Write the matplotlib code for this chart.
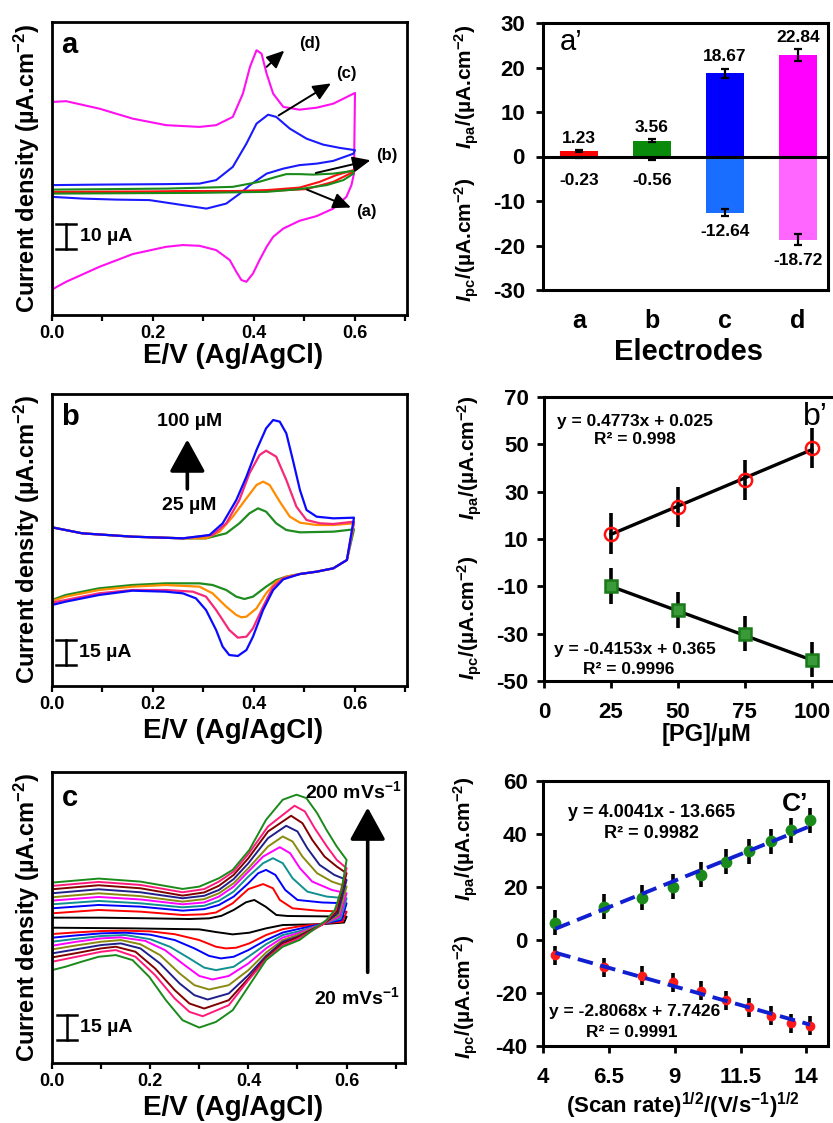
"""
Six-panel CV / peak-current figure (a, a', b, b', c, c').
"""
import matplotlib
matplotlib.use("Agg")
import matplotlib.pyplot as plt

W, H = 833, 1123

plt.rcParams["font.family"] = ["Liberation Sans", "DejaVu Sans"]
plt.rcParams["font.weight"] = "bold"
plt.rcParams["mathtext.fontset"] = "custom"
plt.rcParams["mathtext.rm"] = "Liberation Sans:bold"
plt.rcParams["mathtext.it"] = "Liberation Sans:bold:italic"
plt.rcParams["mathtext.bf"] = "Liberation Sans:bold"
plt.rcParams["mathtext.default"] = "rm"
plt.rcParams["axes.unicode_minus"] = False

# ---------------- panel a: CVs of electrodes a-d (E / V, j / uA.cm-2, arbitrary zero)
A_D_UP_E = [0, 0.028, 0.094, 0.16, 0.226, 0.292, 0.325, 0.358, 0.378, 0.392, 0.405, 0.415,
            0.425, 0.438, 0.458, 0.49, 0.524, 0.557, 0.6]
A_D_UP_J = [36, 36.3, 33.3, 29.3, 26.7, 26, 26.7, 30, 39.3, 50, 56.7, 55.3,
            47.3, 39.3, 34, 32.9, 33.7, 35.3, 39.6]
A_D_DN_E = [0.6, 0.598, 0.593, 0.583, 0.557, 0.524, 0.49, 0.458, 0.438, 0.425, 0.411, 0.398,
            0.385, 0.375, 0.365, 0.352, 0.325, 0.292, 0.259, 0.226, 0.16, 0.094, 0.028, 0]
A_D_DN_J = [39.6, 7.3, 2.7, -2, -6.7, -9.7, -11.6, -14.7, -18, -22, -27.3, -32.7,
            -36, -35.3, -32, -27.3, -23.3, -21.6, -21.3, -22, -24.9, -30, -36, -39.1]
A_C_UP_E = [0, 0.094, 0.226, 0.292, 0.325, 0.358, 0.385, 0.405, 0.428, 0.444, 0.471, 0.504,
            0.537, 0.57, 0.6]
A_C_UP_J = [2.7, 2.9, 3.1, 3.3, 4.7, 10, 19.3, 27.3, 30.9, 30, 25.3, 21.3, 18.9, 17.6, 16.7]
A_C_DN_E = [0.6, 0.597, 0.557, 0.524, 0.49, 0.458, 0.425, 0.392, 0.372, 0.345, 0.306, 0.259,
            0.193, 0.127, 0.061, 0]
A_C_DN_J = [16.7, 15.3, 12.4, 11.3, 10.7, 9.3, 7.3, 2.7, -0.7, -4.7, -6.7, -5.3,
            -3.3, -3.1, -2.7, -2]
A_B_UP_E = [0, 0.226, 0.358, 0.41, 0.444, 0.464, 0.49, 0.517, 0.557, 0.597]
A_B_UP_J = [0.9, 1.3, 2, 4, 6, 7.1, 7.1, 6.9, 7.3, 8.4]
A_B_DN_E = [0.597, 0.577, 0.544, 0.49, 0.425, 0.292, 0]
A_B_DN_J = [7.3, 4.7, 2.7, 1.1, 0, -0.4, -0.7]
A_A_UP_E = [0, 0.358, 0.425, 0.49, 0.53, 0.563, 0.597]
A_A_UP_J = [0, 0.3, 0.7, 1.7, 4, 6.7, 8.7]
A_A_DN_E = [0.597, 0.557, 0.504, 0.425, 0]
A_A_DN_J = [8, 4, 1.1, 0.3, -0.4]

# ---------------- panel a': peak currents
ELECTRODES = ["a", "b", "c", "d"]
IPA_BAR = [1.23, 3.56, 18.67, 22.84]
IPC_BAR = [-0.23, -0.56, -12.64, -18.72]
IPA_BAR_ERR = [0.3, 0.35, 1.1, 1.3]
IPC_BAR_ERR = [0.2, 0.25, 0.75, 1.2]

# ---------------- panel b: CVs at 25, 50, 75, 100 uM PG
B_UP_E = [
    [0, 0.06, 0.159, 0.259, 0.305, 0.345, 0.371, 0.391, 0.408, 0.424, 0.444, 0.464, 0.491, 0.557, 0.598],
    [0, 0.06, 0.159, 0.259, 0.305, 0.332, 0.358, 0.385, 0.405, 0.418, 0.431, 0.451, 0.471, 0.491, 0.524, 0.557, 0.598],
    [0, 0.06, 0.159, 0.259, 0.318, 0.345, 0.371, 0.391, 0.411, 0.424, 0.444, 0.464, 0.484, 0.504, 0.531, 0.557, 0.598],
    [0, 0.06, 0.159, 0.259, 0.312, 0.338, 0.365, 0.385, 0.405, 0.424, 0.438, 0.451, 0.464, 0.477, 0.491, 0.504, 0.524, 0.557, 0.598],
]
B_UP_J = [
    [21.6, 18, 16, 15, 15, 18, 24, 30, 33, 31, 24, 20, 18.6, 19, 20.4],
    [21.6, 18, 16, 15, 15, 19, 28, 39, 47, 49, 47, 37, 28, 24.4, 23, 23, 24],
    [21.6, 18, 16, 15, 17, 24, 38, 54, 65, 67.6, 64, 50, 34, 26, 24, 23.6, 25],
    [21.6, 18, 16, 15, 17, 24, 38, 52, 68, 81, 86, 85, 78, 62, 44, 32, 28, 27, 27.4],
]
B_DN_E = [
    [0.598, 0.584, 0.557, 0.524, 0.491, 0.464, 0.444, 0.424, 0.398, 0.381, 0.365, 0.345, 0.318, 0.292, 0.225, 0.159, 0.093, 0.027, 0],
    [0.598, 0.584, 0.557, 0.524, 0.491, 0.464, 0.444, 0.424, 0.405, 0.385, 0.375, 0.365, 0.345, 0.318, 0.292, 0.225, 0.159, 0.093, 0.027, 0],
    [0.598, 0.584, 0.557, 0.524, 0.491, 0.458, 0.438, 0.418, 0.398, 0.385, 0.368, 0.351, 0.325, 0.305, 0.279, 0.225, 0.159, 0.093, 0.027, 0],
    [0.598, 0.584, 0.557, 0.524, 0.491, 0.458, 0.438, 0.418, 0.398, 0.385, 0.368, 0.351, 0.338, 0.325, 0.305, 0.285, 0.259, 0.225, 0.159, 0.093, 0.027, 0],
]
B_DN_J = [
    [20.4, 2, -3, -5, -6.4, -8, -10, -14, -20, -21.4, -20, -16, -13, -12, -12, -13, -15, -19, -22],
    [24, 2, -3, -5, -6.4, -8, -11, -18, -27, -32, -32.4, -31, -26, -18, -14, -13, -14, -16, -20, -22.6],
    [25, 2, -3, -5, -6.4, -9, -14, -26, -39, -44, -44.6, -40, -28, -20, -17, -16, -16, -18, -22, -23.6],
    [27.4, 2, -3, -5, -6.4, -9.6, -16, -28, -44, -52, -55.6, -55, -50, -40, -28, -21, -18, -17, -16.4, -19, -23, -25],
]
B_COLORS = ["#1f8c1f", "#ff8c00", "#f5287a", "#0a0aff"]

# ---------------- panel b': peak current vs [PG]
PG_CONC = [25, 50, 75, 100]
IPA_PG = [12.3, 23.5, 35.0, 48.5]
IPC_PG = [-9.8, -20.0, -30.0, -41.0]
IPA_PG_ERR = [8.5, 8.5, 8.5, 8.5]
IPC_PG_ERR = [7.5, 7.5, 7.5, 7.5]
FIT_PG_PA = (0.4773, 0.025)
FIT_PG_PC = (-0.4153, 0.365)

# ---------------- panel c: CVs at 20 ... 200 mV/s
SCAN_COLORS = ["#000000", "#ff0000", "#0000ff", "#109090", "#ff00ff",
               "#8a8a10", "#20208a", "#800000", "#ff1a7a", "#1a8a1a"]
C_UP_E = [
    [0, 0.1, 0.2, 0.28, 0.32, 0.345, 0.37, 0.395, 0.412, 0.435, 0.457, 0.48, 0.55, 0.6],
    [0, 0.095, 0.18, 0.266, 0.31, 0.334, 0.368, 0.40, 0.43, 0.45, 0.464, 0.49, 0.54, 0.6],
    [0, 0.095, 0.18, 0.266, 0.31, 0.34, 0.37, 0.40, 0.42, 0.436, 0.455, 0.475, 0.50, 0.55, 0.6],
    [0, 0.095, 0.18, 0.266, 0.31, 0.34, 0.37, 0.40, 0.43, 0.45, 0.47, 0.49, 0.52, 0.56, 0.6],
    [0, 0.095, 0.18, 0.266, 0.31, 0.34, 0.37, 0.40, 0.43, 0.464, 0.485, 0.505, 0.53, 0.57, 0.6],
    [0, 0.095, 0.18, 0.266, 0.31, 0.34, 0.37, 0.40, 0.44, 0.47, 0.49, 0.51, 0.54, 0.57, 0.6],
    [0, 0.095, 0.18, 0.266, 0.31, 0.34, 0.37, 0.40, 0.44, 0.477, 0.50, 0.52, 0.545, 0.575, 0.6],
    [0, 0.095, 0.18, 0.266, 0.31, 0.34, 0.37, 0.40, 0.44, 0.487, 0.51, 0.53, 0.555, 0.58, 0.6],
    [0, 0.095, 0.18, 0.266, 0.31, 0.34, 0.37, 0.40, 0.44, 0.494, 0.515, 0.535, 0.56, 0.58, 0.6],
    [0, 0.095, 0.18, 0.266, 0.30, 0.34, 0.368, 0.402, 0.436, 0.47, 0.498, 0.518, 0.54, 0.559, 0.58, 0.6],
]
C_UP_J = [
    [3.4, 3.4, 3.0, 2.6, 3.0, 4.5, 8, 12.6, 14, 10, 5, 4.4, 4.2, 4],
    [6, 8, 7, 5, 5.4, 6.5, 12, 20.5, 23.5, 21, 14, 9, 7.6, 7],
    [9, 11, 10, 7.6, 8.5, 11, 16, 24, 30, 32, 29, 20, 14, 12.5, 12],
    [11.4, 13.4, 12, 9.6, 10.5, 13.5, 19, 28, 36, 39, 36, 27, 19, 16, 15],
    [13.6, 15.8, 14.3, 11.4, 12.5, 16, 22, 31, 40, 45.6, 42, 33, 25, 20, 18],
    [15.6, 18, 16.3, 13, 14.5, 18, 24, 33, 46, 52, 49, 40, 30, 25, 22],
    [18, 20.4, 18.6, 15, 16.5, 20, 26.5, 36, 51, 58.4, 55, 45, 35, 29, 26],
    [20.4, 22.8, 21, 16.6, 18.5, 22.5, 29, 39, 55, 64.4, 60, 50, 40, 34, 30],
    [22.4, 24.8, 23, 18.6, 20.5, 25, 31, 41.5, 58, 70.4, 67, 57, 46, 38, 33],
    [24.4, 26.8, 25, 20.6, 22, 27, 32, 44, 62, 74, 77, 75, 66, 56, 46, 38],
]
C_DN_E = [
    [0.6, 0.595, 0.55, 0.47, 0.436, 0.402, 0.368, 0.334, 0.3, 0.164, 0],
    [0.6, 0.592, 0.555, 0.5, 0.47, 0.436, 0.402, 0.375, 0.354, 0.334, 0.3, 0.25, 0.2, 0.15, 0.1, 0.05, 0],
    [0.6, 0.59, 0.555, 0.5, 0.47, 0.436, 0.40, 0.37, 0.344, 0.32, 0.29, 0.25, 0.2, 0.15, 0.1, 0.05, 0],
    [0.6, 0.588, 0.555, 0.5, 0.47, 0.436, 0.40, 0.37, 0.334, 0.31, 0.28, 0.24, 0.2, 0.15, 0.1, 0.05, 0],
    [0.6, 0.586, 0.555, 0.5, 0.47, 0.436, 0.40, 0.36, 0.327, 0.30, 0.27, 0.23, 0.19, 0.14, 0.1, 0.05, 0],
    [0.6, 0.584, 0.555, 0.5, 0.47, 0.436, 0.40, 0.36, 0.32, 0.29, 0.26, 0.22, 0.18, 0.14, 0.1, 0.05, 0],
    [0.6, 0.582, 0.555, 0.5, 0.47, 0.436, 0.40, 0.36, 0.317, 0.29, 0.26, 0.22, 0.18, 0.14, 0.1, 0.05, 0],
    [0.6, 0.58, 0.555, 0.5, 0.47, 0.436, 0.40, 0.36, 0.31, 0.28, 0.25, 0.21, 0.17, 0.13, 0.1, 0.05, 0],
    [0.6, 0.578, 0.555, 0.5, 0.47, 0.436, 0.40, 0.36, 0.307, 0.28, 0.25, 0.21, 0.17, 0.13, 0.1, 0.05, 0],
    [0.6, 0.59, 0.576, 0.559, 0.545, 0.504, 0.47, 0.436, 0.402, 0.368, 0.334, 0.3, 0.266, 0.232,
     0.198, 0.164, 0.13, 0.095, 0.06, 0.027, 0],
]
C_DN_J = [
    [4, 0.5, -0.5, -1, -3, -5.6, -6.6, -5.2, -3.6, -3, -2.6],
    [7, 1, 0, -2, -3.5, -7, -12, -14.6, -15, -14, -10, -6.5, -4.8, -4.4, -4.6, -5.4, -6.4],
    [12, 2, 0, -3.5, -5.5, -10, -16, -20, -21, -19.5, -15, -10, -6.8, -5.6, -6, -7.2, -8.6],
    [15, 3, 0, -5, -7, -12.5, -20, -26, -28, -26.5, -21, -14, -9.5, -7, -7.6, -9.2, -11],
    [18, 4, 0, -6, -8.5, -15, -24, -31.5, -33.6, -31.5, -25, -16, -10.5, -8.4, -9, -11, -13.4],
    [22, 5, 0, -7, -10, -17.5, -28, -37, -39.6, -37, -30, -19, -12.5, -10, -11, -13.2, -15.6],
    [26, 6, 0, -8, -11, -19.5, -31, -42, -45.6, -43, -36, -24, -15, -12, -13, -15.5, -18],
    [30, 7, 0, -8.5, -12, -20.5, -33, -46, -51, -48, -40, -27, -17, -14, -15, -17.8, -20.4],
    [33, 8, 0, -9.5, -13, -21.5, -34, -49, -55.6, -53, -45, -31, -20, -16, -17, -20, -23],
    [38, 20, 8, 2, -1, -10, -14, -22, -37, -52, -59, -62.4, -58, -46, -32, -22, -19, -20, -23, -26, -28],
]

# ---------------- panel c': peak current vs sqrt(scan rate)
SQRT_SCAN = [4.47, 6.32, 7.75, 8.94, 10.0, 10.95, 11.83, 12.65, 13.42, 14.14]
IPA_SCAN = [6.5, 12.5, 16.0, 20.1, 24.6, 29.6, 33.4, 37.2, 41.4, 45.1]
IPC_SCAN = [-5.8, -10.3, -13.4, -15.9, -19.1, -22.7, -25.4, -28.6, -31.5, -32.4]
IPA_SCAN_ERR = [4.7] * 10
IPC_SCAN_ERR = [3.6] * 10
FIT_SCAN_PA = (4.0041, -13.665)
FIT_SCAN_PC = (-2.8068, 7.7426)


def px_axes(fig, left, top, right, bottom):
    return fig.add_axes([left / W, 1 - bottom / H, (right - left) / W, (bottom - top) / H])


def ftext(fig, x, y, s, **kw):
    return fig.text(x / W, 1 - y / H, s, **kw)


def style_cv(ax, xmax, ylim):
    ax.set_xlim(0, xmax)
    ax.set_ylim(*ylim)
    ax.set_xticks([0, 0.2, 0.4, 0.6])
    ax.set_xticklabels(["0.0", "0.2", "0.4", "0.6"])
    ax.set_xticks([0.1, 0.3, 0.5, 0.7], minor=True)
    ax.set_yticks([])
    ax.tick_params(axis="x", which="both", direction="out", length=4, width=1.6,
                   labelsize=13, pad=3)
    for s in ax.spines.values():
        s.set_linewidth(2)


def scale_bar(ax, x, y0, y1, label):
    ax.plot([x, x], [y0, y1], color="k", lw=1.8)
    ax.plot([x - 0.02, x + 0.02], [y0, y0], color="k", lw=1.8)
    ax.plot([x - 0.02, x + 0.02], [y1, y1], color="k", lw=1.8)
    ax.text(x + 0.027, (y0 + y1) / 2, label, fontsize=14, fontweight="bold",
            ha="left", va="center")


def cv_labels(fig, top, bottom, xlab_y):
    ftext(fig, 27, (top + bottom) / 2, "Current density (µA.cm$^{-2}$)", rotation=90,
          ha="center", va="center", fontsize=17, fontweight="bold")
    ftext(fig, 233, xlab_y, "E/V (Ag/AgCl)", ha="center", va="center",
          fontsize=20, fontweight="bold")


def split_ylabels(fig, x, y_up, y_dn):
    ftext(fig, x, y_up, r"$\mathit{I}_{pa}$/(µA.cm$^{-2}$)", rotation=90,
          ha="center", va="center", fontsize=15)
    ftext(fig, x, y_dn, r"$\mathit{I}_{pc}$/(µA.cm$^{-2}$)", rotation=90,
          ha="center", va="center", fontsize=15)


def style_box(ax):
    for s in ax.spines.values():
        s.set_linewidth(2.2)
    ax.tick_params(direction="out", length=5, width=2, labelsize=16)


def main():
    fig = plt.figure(figsize=(W / 100, H / 100), dpi=100)

    # ---- a
    ax = px_axes(fig, 52, 22, 407, 315)
    curves = [(A_D_UP_E, A_D_UP_J, A_D_DN_E, A_D_DN_J, "#ff10f0"),
              (A_C_UP_E, A_C_UP_J, A_C_DN_E, A_C_DN_J, "#1a1aff"),
              (A_A_UP_E, A_A_UP_J, A_A_DN_E, A_A_DN_J, "#ff1010"),
              (A_B_UP_E, A_B_UP_J, A_B_DN_E, A_B_DN_J, "#1a8a1a")]
    for ue, uj, de, dj, col in curves:
        ax.plot(ue + de, uj + dj, color=col, lw=1.5)
    style_cv(ax, 0.703, (-49.3, 68))
    ax.text(0.05, 0.92, "a", transform=ax.transAxes, fontsize=21, fontweight="bold",
            ha="center", va="center")
    arrow = dict(arrowstyle="-|>,head_width=0.4,head_length=0.9", color="k", lw=1.4,
                 mutation_scale=12)
    for tail, head, lab, lpos in [((0.421, 49.3), (0.464, 57.3), "(d)", (0.511, 59.3)),
                                  ((0.444, 30), (0.557, 44), "(c)", (0.583, 47.3)),
                                  ((0.517, 7.3), (0.636, 12.9), "(b)", (0.663, 14.7)),
                                  ((0.5, 1.3), (0.597, -6.7), "(a)", (0.623, -8))]:
        ax.annotate("", xy=head, xytext=tail, arrowprops=arrow)
        ax.text(lpos[0], lpos[1], lab, fontsize=12, fontweight="bold", ha="center", va="center")
    scale_bar(ax, 0.028, -22.7, -12.7, "10 µA")
    cv_labels(fig, 22, 315, 356)

    # ---- a'
    ax = px_axes(fig, 543, 23, 828, 290)
    xs = list(range(len(ELECTRODES)))
    ax.bar(xs, IPA_BAR, width=0.52, color=["#ff0000", "#0a8a0a", "#0000ff", "#ff00ff"],
           yerr=IPA_BAR_ERR, capsize=3, error_kw=dict(lw=1.6, capthick=1.6), zorder=2)
    ax.bar(xs, IPC_BAR, width=0.52, color=["#ff6060", "#40a040", "#1a6eff", "#ff66ff"],
           yerr=IPC_BAR_ERR, capsize=3, error_kw=dict(lw=1.6, capthick=1.6), zorder=2)
    ax.axhline(0, color="k", lw=2.2, zorder=3)
    for x, v, e in zip(xs, IPA_BAR, IPA_BAR_ERR):
        ax.text(x, v + e + 2.6, f"{v:.2f}", ha="center", va="center", fontsize=12.5,
                fontweight="bold")
    for x, v, e in zip(xs, IPC_BAR, IPC_BAR_ERR):
        ax.text(x, min(v - e - 3.4, -5.3), f"{v:.2f}", ha="center", va="center",
                fontsize=12.5, fontweight="bold")
    ax.set_xlim(-0.49, 3.41)
    ax.set_ylim(-30, 30)
    ax.set_yticks([-30, -20, -10, 0, 10, 20, 30])
    ax.set_xticks(xs)
    ax.set_xticklabels(ELECTRODES)
    style_box(ax)
    ax.tick_params(axis="x", length=0, pad=14, labelsize=18)
    ax.tick_params(axis="y", pad=8)
    ax.text(0.1, 0.93, "a’", transform=ax.transAxes, fontsize=21, fontweight="normal",
            ha="center", va="center")
    split_ylabels(fig, 467, 87, 240)
    ftext(fig, 689, 352, "Electrodes", ha="center", va="center", fontsize=21,
          fontweight="bold")

    # ---- b
    ax = px_axes(fig, 52, 394, 407, 686)
    for ue, uj, de, dj, col in zip(B_UP_E, B_UP_J, B_DN_E, B_DN_J, B_COLORS):
        ax.plot(ue + de, uj + dj, color=col, lw=1.6)
    style_cv(ax, 0.703, (-73.6, 101.6))
    ax.text(0.05, 0.92, "b", transform=ax.transAxes, fontsize=21, fontweight="bold",
            ha="center", va="center")
    ax.annotate("", xy=(0.268, 76), xytext=(0.268, 43),
                arrowprops=dict(arrowstyle="-|>,head_width=0.55,head_length=1.0",
                                color="k", lw=2.6, mutation_scale=20))
    ax.text(0.272, 85, "100 µM", fontsize=14, fontweight="bold", ha="center", va="center")
    ax.text(0.272, 35, "25 µM", fontsize=14, fontweight="bold", ha="center", va="center")
    scale_bar(ax, 0.027, -61, -46, "15 µA")
    cv_labels(fig, 394, 686, 731)

    # ---- b'
    ax = px_axes(fig, 544, 397, 836, 681)
    ax.errorbar(PG_CONC, IPA_PG, yerr=IPA_PG_ERR, fmt="none", ecolor="k", elinewidth=2.6,
                capsize=0, zorder=2)
    ax.errorbar(PG_CONC, IPC_PG, yerr=IPC_PG_ERR, fmt="none", ecolor="k", elinewidth=2.6,
                capsize=0, zorder=2)
    ends = [PG_CONC[0], PG_CONC[-1]]
    ax.plot(ends, [FIT_PG_PA[0] * v + FIT_PG_PA[1] for v in ends], color="k", lw=2.4, zorder=3)
    ax.plot(ends, [FIT_PG_PC[0] * v + FIT_PG_PC[1] for v in ends], color="k", lw=2.4, zorder=3)
    ax.plot(PG_CONC, IPA_PG, "o", ms=9.5, mfc="none", mec="#ff1010", mew=1.8, zorder=4)
    ax.plot(PG_CONC, IPC_PG, "s", ms=9, mfc="#3a9a3a", mec="#1a7a1a", mew=1.8, zorder=4)
    ax.set_xlim(0, 109)
    ax.set_ylim(-50, 70)
    ax.set_xticks([0, 25, 50, 75, 100])
    ax.set_yticks([-50, -30, -10, 10, 30, 50, 70])
    style_box(ax)
    ax.tick_params(axis="x", pad=10)
    ax.tick_params(axis="y", pad=6)
    ax.text(0.31, 0.915, "y = 0.4773x + 0.025", transform=ax.transAxes, fontsize=12.5,
            fontweight="bold", ha="center", va="center")
    ax.text(0.31, 0.85, "R² = 0.998", transform=ax.transAxes, fontsize=12.5,
            fontweight="bold", ha="center", va="center")
    ax.text(0.93, 0.93, "b’", transform=ax.transAxes, fontsize=23, fontweight="normal",
            ha="center", va="center")
    ax.text(0.31, 0.11, "y = -0.4153x + 0.365", transform=ax.transAxes, fontsize=12.5,
            fontweight="bold", ha="center", va="center")
    ax.text(0.29, 0.04, "R² = 0.9996", transform=ax.transAxes, fontsize=12.5,
            fontweight="bold", ha="center", va="center")
    split_ylabels(fig, 470, 458, 618)
    ftext(fig, 707, 734, "[PG]/µM", ha="center", va="center", fontsize=17, fontweight="bold")

    # ---- c
    ax = px_axes(fig, 52, 772, 405, 1063)
    for ue, uj, de, dj, col in zip(C_UP_E, C_UP_J, C_DN_E, C_DN_J, SCAN_COLORS):
        ax.plot(ue + de, uj + dj, color=col, lw=1.4)
    style_cv(ax, 0.719, (-83.6, 90.6))
    ax.text(0.05, 0.91, "c", transform=ax.transAxes, fontsize=21, fontweight="bold",
            ha="center", va="center")
    ax.annotate("", xy=(0.643, 71), xytext=(0.643, -31),
                arrowprops=dict(arrowstyle="-|>,head_width=0.55,head_length=1.0",
                                color="k", lw=2.6, mutation_scale=20))
    ax.text(0.613, 79, "200 mVs$^{-1}$", fontsize=14, fontweight="bold", ha="center",
            va="center")
    ax.text(0.62, -44, "20 mVs$^{-1}$", fontsize=14, fontweight="bold", ha="center",
            va="center")
    scale_bar(ax, 0.031, -70, -55, "15 µA")
    cv_labels(fig, 772, 1063, 1108)

    # ---- c'
    ax = px_axes(fig, 543, 781, 828, 1046)
    ax.errorbar(SQRT_SCAN, IPA_SCAN, yerr=IPA_SCAN_ERR, fmt="none", ecolor="k",
                elinewidth=2.6, capsize=0, zorder=2)
    ax.errorbar(SQRT_SCAN, IPC_SCAN, yerr=IPC_SCAN_ERR, fmt="none", ecolor="k",
                elinewidth=2.6, capsize=0, zorder=2)
    ax.plot(SQRT_SCAN, IPA_SCAN, "o", ms=7.5, color="#1a8a1a", zorder=3)
    ax.plot(SQRT_SCAN, IPC_SCAN, "o", ms=6, color="#ff1a1a", zorder=3)
    ends = [SQRT_SCAN[0], SQRT_SCAN[-1]]
    ax.plot(ends, [FIT_SCAN_PA[0] * v + FIT_SCAN_PA[1] for v in ends], color="#1020d0",
            lw=2.8, ls=(0, (4, 2)), zorder=4)
    ax.plot(ends, [FIT_SCAN_PC[0] * v + FIT_SCAN_PC[1] for v in ends], color="#1020d0",
            lw=2.8, ls=(0, (4, 2)), zorder=4)
    ax.set_xlim(4, 14.82)
    ax.set_ylim(-40, 60)
    ax.set_xticks([4, 6.5, 9, 11.5, 14])
    ax.set_xticklabels(["4", "6.5", "9", "11.5", "14"])
    ax.set_yticks([-40, -20, 0, 20, 40, 60])
    style_box(ax)
    ax.tick_params(axis="x", pad=10)
    ax.tick_params(axis="y", pad=6)
    ax.text(0.38, 0.88, "y = 4.0041x - 13.665", transform=ax.transAxes, fontsize=13,
            fontweight="bold", ha="center", va="center")
    ax.text(0.38, 0.80, "R² = 0.9982", transform=ax.transAxes, fontsize=13,
            fontweight="bold", ha="center", va="center")
    ax.text(0.885, 0.915, "C’", transform=ax.transAxes, fontsize=19, fontweight="bold",
            ha="center", va="center")
    ax.text(0.32, 0.13, "y = -2.8068x + 7.7426", transform=ax.transAxes, fontsize=12.5,
            fontweight="bold", ha="center", va="center")
    ax.text(0.31, 0.05, "R² = 0.9991", transform=ax.transAxes, fontsize=12.5,
            fontweight="bold", ha="center", va="center")
    split_ylabels(fig, 466, 839, 997)
    ftext(fig, 683, 1106, "(Scan rate)$^{1/2}$/(V/s$^{-1}$)$^{1/2}$", ha="center",
          va="center", fontsize=16, fontweight="bold")

    fig.savefig("out.png", dpi=100, facecolor="white")
    plt.close(fig)


if __name__ == "__main__":
    main()
